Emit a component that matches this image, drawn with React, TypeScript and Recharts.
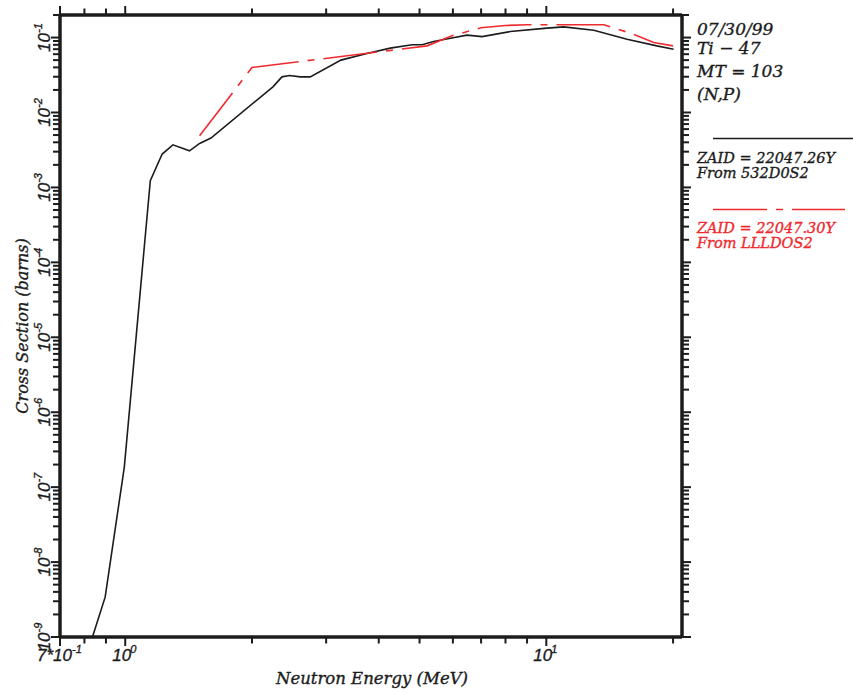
import React from 'react';
import { LineChart, Line, XAxis, YAxis, ReferenceLine } from 'recharts';

// ---- data ----
const energyBlack = [0.836, 0.896, 0.995, 1.147, 1.224, 1.298, 1.421, 1.502, 1.598, 2.243, 2.356, 2.457, 2.604, 2.75, 3.253, 3.75, 4.26, 4.8, 5.07, 5.4, 5.92, 6.48, 7.04, 8.21, 10.04, 11.0, 12.96, 15.55, 18.3, 20.06];
const sigmaBlack = [1e-9, 3.4e-9, 1.85e-7, 1.23e-3, 2.79e-3, 3.7e-3, 3.08e-3, 3.86e-3, 4.56e-3, 0.022, 0.0299, 0.0311, 0.0299, 0.0299, 0.05, 0.0612, 0.0722, 0.08, 0.08, 0.0885, 0.098, 0.1077, 0.103, 0.1202, 0.1335, 0.139, 0.1255, 0.0952, 0.0775, 0.07];
const energyRed = [1.502, 2.0, 5.21, 5.95, 7.0, 8.0, 9.0, 13.7, 16.1, 18.0, 20.0];
const sigmaRed = [4.89e-3, 0.0398, 0.0775, 0.105, 0.135, 0.145, 0.148, 0.148, 0.111, 0.0858, 0.0775];

const xTicks = [0.7, 0.8, 0.9, 1, 2, 3, 4, 5, 6, 7, 8, 9, 10, 20];
const yDecades = [-9, -8, -7, -6, -5, -4, -3, -2, -1];
const yMultipliers = [1, 2, 3, 4, 5, 6, 7, 8, 9];
const headerLines = ['07/30/99', 'Ti \u2212 47', 'MT = 103', '(N,P)'];
const legendBlack = ['ZAID = 22047.26Y', 'From 532D0S2'];
const legendRed = ['ZAID = 22047.30Y', 'From LLLDOS2'];

const blackData = energyBlack.map((e, i) => ({ e, s: sigmaBlack[i] }));
const redData = energyRed.map((e, i) => ({ e, s: sigmaRed[i] }));
const yTicks: number[] = [];
yDecades.forEach((d) => yMultipliers.forEach((m) => {
  const v = m * Math.pow(10, d);
  if (v <= 0.2) yTicks.push(v);
}));
yTicks.push(0.2);

const W = 853;
const H = 694;
const PLOT_W = 622;
const PLOT_H = 622;
const RED = '#ee2a2e';
const INK = '#1c1c1c';
const TICK_FONT = '"Liberation Sans", Arial, sans-serif';
const SERIF = '"DejaVu Serif", serif';

const isDecade = (v: number) => Math.abs(Math.log10(v) - Math.round(Math.log10(v))) < 1e-9;

function XTick(props: any) {
  const { x, y, payload } = props;
  const v = payload.value;
  const major = isDecade(v) || v === 0.7;
  const len = major ? 9 : 6.5;
  const top = y - PLOT_H;
  let label: React.ReactNode = null;
  const common = { fontFamily: TICK_FONT, fontStyle: 'italic', fontSize: 17, fill: INK, stroke: INK, strokeWidth: 0.35 } as any;
  if (v === 0.7) {
    label = (
      <text x={x - 23} y={y + 24} {...common}>
        7*10<tspan fontSize={11} dy={-8}>-1</tspan>
      </text>
    );
  } else if (isDecade(v)) {
    const exp = Math.round(Math.log10(v));
    label = (
      <text x={x - 13} y={y + 24} {...common}>
        10<tspan fontSize={11} dy={-8} dx={-1}>{exp}</tspan>
      </text>
    );
  }
  return (
    <g>
      <line x1={x} x2={x} y1={y} y2={y + len} stroke={INK} strokeWidth={2} />
      <line x1={x} x2={x} y1={top} y2={top - len} stroke={INK} strokeWidth={2} />
      {label}
    </g>
  );
}

function YTick(props: any) {
  const { x, y, payload } = props;
  const v = payload.value;
  const major = isDecade(v);
  const len = major ? 9 : 7;
  const right = x + PLOT_W;
  let label: React.ReactNode = null;
  if (major) {
    const exp = Math.round(Math.log10(v));
    const bx = x - 10;
    label = (
      <text x={bx} y={y} transform={`rotate(-90, ${bx}, ${y})`} textAnchor="middle" fontFamily={TICK_FONT} fontStyle="italic" fontSize={17} fill={INK} stroke={INK} strokeWidth={0.35}>
        10<tspan fontSize={11} dy={-8}>{String(exp)}</tspan>
      </text>
    );
  }
  return (
    <g>
      <line x1={x} x2={x - len} y1={y} y2={y} stroke={INK} strokeWidth={2} />
      <line x1={right} x2={right + len} y1={y} y2={y} stroke={INK} strokeWidth={2} />
      {label}
    </g>
  );
}

export default function App() {
  const serifText = { fontFamily: SERIF, fontStyle: 'italic', strokeWidth: 0.35 } as any;
  return (
    <div style={{ position: 'absolute', left: 0, top: 0, width: W, height: H, background: '#fff' }}>
      <LineChart width={W} height={H} margin={{ top: 15, right: 171, bottom: 27, left: 0 }}>
        <XAxis
          dataKey="e"
          type="number"
          scale="log"
          domain={[0.7, 21]}
          allowDataOverflow
          ticks={xTicks}
          interval={0}
          tickLine={false}
          tickSize={0}
          tickMargin={0}
          height={30}
          axisLine={{ stroke: INK, strokeWidth: 3.5 }}
          tick={(p: any) => <XTick {...p} />}
        />
        <YAxis
          dataKey="s"
          type="number"
          scale="log"
          domain={[1e-9, 0.2]}
          allowDataOverflow
          ticks={yTicks}
          interval={0}
          tickLine={false}
          tickSize={0}
          tickMargin={0}
          width={60}
          axisLine={{ stroke: INK, strokeWidth: 3.5 }}
          tick={(p: any) => <YTick {...p} />}
        />
        <ReferenceLine y={0.2} stroke={INK} strokeWidth={3.5} ifOverflow="visible" />
        <ReferenceLine x={21} stroke={INK} strokeWidth={3.5} ifOverflow="visible" />
        <Line data={blackData} dataKey="s" stroke={INK} strokeWidth={1.6} dot={false} isAnimationActive={false} />
        <Line data={redData} dataKey="s" stroke={RED} strokeWidth={1.6} strokeDasharray="54 9 7 9" dot={false} isAnimationActive={false} />
      </LineChart>
      <svg width={W} height={H} style={{ position: 'absolute', left: 0, top: 0, pointerEvents: 'none' }}>
        <text x={28} y={326} transform="rotate(-90, 28, 326)" textAnchor="middle" fontSize={16} fill={INK} stroke={INK} {...serifText}>
          Cross Section (barns)
        </text>
        <text x={372} y={684} textAnchor="middle" fontSize={16.5} fill={INK} stroke={INK} {...serifText}>
          Neutron Energy (MeV)
        </text>
        {headerLines.map((t, i) => (
          <text key={t} x={697} y={[35, 54, 77, 100][i]} fontSize={17} fill={INK} stroke={INK} {...serifText}>{t}</text>
        ))}
        <line x1={713} x2={853} y1={138.5} y2={138.5} stroke={INK} strokeWidth={1.6} />
        {legendBlack.map((t, i) => (
          <text key={t} x={697} y={163 + i * 15} fontSize={14.5} fill={INK} stroke={INK} {...serifText}>{t}</text>
        ))}
        <line x1={713} x2={845} y1={209.5} y2={209.5} stroke={RED} strokeWidth={1.6} strokeDasharray="54 9 7 9" />
        {legendRed.map((t, i) => (
          <text key={t} x={697} y={233 + i * 15} fontSize={14.5} fill={RED} stroke={RED} {...serifText}>{t}</text>
        ))}
      </svg>
    </div>
  );
}
